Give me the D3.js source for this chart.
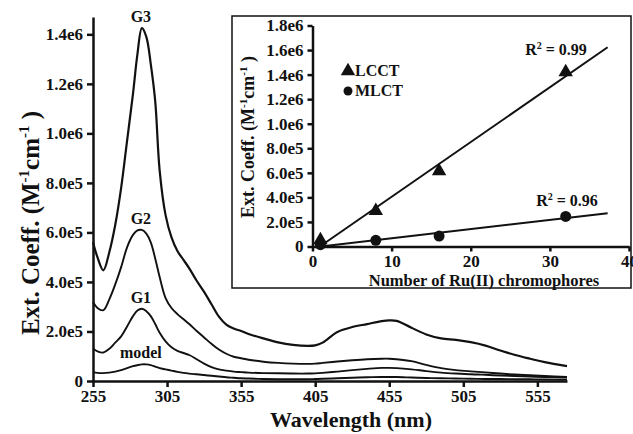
<!DOCTYPE html>
<html lang="en">
<head>
	<meta charset="UTF-8">
	<title>Ext. Coeff.</title>
	<style>
		*{margin:0;padding:0;}
		body{background:#fff;}
		#container{width: 633px; height: 434px;}
		svg text{font-family:"Liberation Serif","Times New Roman",serif !important;font-weight:bold;fill:#111;}
	</style>
</head>
<body>
	<div id="container"></div>
	<script src="https://cdn.jsdelivr.net/npm/d3@7"></script>
	<script>
		// main spectrum (values in 1e5 M-1cm-1)
		var wavelength = [255,258,262,266,270,274,278,282,285,288,291,294,297,300,304,308,312,316,320,325,330,335,340,345,350,355,360,370,380,390,400,405,410,420,430,440,450,455,460,470,480,490,500,510,520,530,540,550,560,575]
		var g3 = [5.6,5.0,4.47,5.2,6.3,7.8,9.7,11.6,13.2,14.25,13.9,12.8,11.3,8.5,6.7,5.8,5.25,4.9,4.55,4.05,3.6,3.1,2.6,2.28,2.12,2.02,1.9,1.72,1.56,1.46,1.42,1.44,1.55,1.98,2.18,2.3,2.42,2.45,2.43,2.15,1.88,1.72,1.66,1.57,1.43,1.23,1.05,0.9,0.76,0.6]
		var g2 = [3.19,2.95,2.86,3.3,3.9,4.6,5.4,5.9,6.08,6.1,5.95,5.6,4.95,4.2,3.35,2.95,2.7,2.5,2.3,2.02,1.76,1.5,1.27,1.1,0.98,0.92,0.86,0.78,0.73,0.7,0.69,0.7,0.73,0.79,0.84,0.88,0.9,0.9,0.88,0.8,0.65,0.52,0.44,0.39,0.35,0.3,0.26,0.23,0.2,0.16]
		var g1 = [1.31,1.2,1.15,1.3,1.55,1.8,2.2,2.62,2.85,2.92,2.82,2.62,2.3,1.95,1.6,1.36,1.22,1.13,1.05,0.88,0.7,0.56,0.47,0.42,0.38,0.36,0.34,0.32,0.31,0.3,0.3,0.31,0.33,0.38,0.44,0.49,0.53,0.53,0.52,0.47,0.4,0.34,0.3,0.27,0.25,0.22,0.2,0.18,0.16,0.14]
		var model = [0.36,0.33,0.32,0.34,0.38,0.44,0.52,0.6,0.64,0.67,0.67,0.64,0.58,0.52,0.47,0.42,0.37,0.33,0.3,0.27,0.24,0.21,0.18,0.15,0.13,0.11,0.1,0.08,0.07,0.07,0.07,0.08,0.09,0.11,0.13,0.15,0.16,0.16,0.16,0.14,0.12,0.11,0.1,0.09,0.08,0.08,0.07,0.07,0.06,0.05]
		var seriesNames = ['G3','G2','G1','model']
		var xTicks = [255,305,355,405,455,505,555]
		var yTicks = [0,2e5,4e5,6e5,8e5,1e6,1.2e6,1.4e6]
		var yTickLabels = ['0','2.0e5','4.0e5','6.0e5','8.0e5','1.0e6','1.2e6','1.4e6']

		// inset
		var chromophores = [1,8,16,32]
		var lcct = [5.3e4,2.9e5,6.15e5,1.42e6]
		var mlct = [1.5e4,5e4,8.5e4,2.45e5]
		var insetXTicks = [0,10,20,30,40]
		var insetYTicks = [0,2e5,4e5,6e5,8e5,1e6,1.2e6,1.4e6,1.6e6,1.8e6]
		var insetYTickLabels = ['0','2.0e5','4.0e5','6.0e5','8.0e5','1.0e6','1.2e6','1.4e6','1.6e6','1.8e6']
		var r2 = ['0.99','0.96']

		var svg = d3.select('#container').append('svg').attr('width', 633).attr('height', 434)

		var scale_x = d3.scaleLinear().domain([255, 575]).range([93, 567])
		var scale_y = d3.scaleLinear().domain([0, 1.47e6]).range([381, 17])

		function styleAxis(g, w, fs){
			g.attr('font-family', null).attr('font-size', null)
			g.select('.domain').attr('stroke', '#111').attr('stroke-width', w)
			g.selectAll('.tick line').attr('stroke', '#111').attr('stroke-width', w)
			g.selectAll('.tick text').attr('fill', '#111').style('font-size', fs + 'px')
		}

		var line_g = d3.line()
			.x(function(d){return scale_x(d[0])})
			.y(function(d){return scale_y(d[1] * 1e5)})
			.curve(d3.curveCatmullRom)
		var allSeries = [g3, g2, g1, model]
		allSeries.forEach(function(vals, k){
			svg.append('path')
				.attr('d', line_g(wavelength.map(function(w, i){return [w, vals[i]]})))
				.attr('fill', 'none')
				.attr('stroke', '#111')
				.attr('stroke-width', k == 0 ? 2.2 : 1.9)
		})

		// series labels sit above each peak
		var peakIdx = allSeries.map(function(v){return v.indexOf(d3.max(v))})
		svg.selectAll('.slab').data(seriesNames).enter().append('text')
			.attr('x', function(d, k){return scale_x(wavelength[peakIdx[k]]) - 1})
			.attr('y', function(d, k){return scale_y(allSeries[k][peakIdx[k]] * 1e5) - 6})
			.attr('text-anchor', 'middle')
			.attr('font-size', 16)
			.text(function(d){return d})

		var x_axis = d3.axisBottom(scale_x).tickValues(xTicks).tickSize(6).tickSizeOuter(0).tickPadding(3)
		var y_axis = d3.axisLeft(scale_y).tickValues(yTicks).tickSize(6).tickSizeOuter(0).tickPadding(4)
			.tickFormat(function(d, i){return yTickLabels[i]})
		svg.append('g').attr('transform', 'translate(0,' + scale_y(0) + ')').call(x_axis)
			.call(styleAxis, 2.5, 17)
		svg.append('g').attr('transform', 'translate(' + scale_x(255) + ',0)').call(y_axis)
			.call(styleAxis, 2.5, 17)

		svg.append('text').attr('x', 351).attr('y', 427).attr('text-anchor', 'middle')
			.attr('font-size', 22).text('Wavelength (nm)')
		var yt = svg.append('text').attr('transform', 'translate(39,223) rotate(-90)')
			.attr('text-anchor', 'middle').attr('font-size', 25)
		yt.append('tspan').text('Ext. Coeff. (M')
		yt.append('tspan').attr('dy', -10).attr('font-size', 15).text('-1')
		yt.append('tspan').attr('dy', 10).text('cm')
		yt.append('tspan').attr('dy', -10).attr('font-size', 15).text('-1')
		yt.append('tspan').attr('dy', 10).text(' )')

		// inset panel
		var inset = svg.append('g')
		inset.append('rect').attr('x', 232).attr('y', 16).attr('width', 399).attr('height', 272)
			.attr('fill', '#fff').attr('stroke', '#111').attr('stroke-width', 1.5)

		var ix = d3.scaleLinear().domain([0, 40]).range([312.5, 629])
		var iy = d3.scaleLinear().domain([0, 1.8e6]).range([246.5, 25.5])

		inset.append('g').attr('transform', 'translate(0,' + iy(0) + ')')
			.call(d3.axisBottom(ix).tickValues(insetXTicks).tickSize(5).tickSizeOuter(0).tickPadding(3))
			.call(styleAxis, 2.5, 17)
		inset.append('g').attr('transform', 'translate(' + ix(0) + ',0)')
			.call(d3.axisLeft(iy).tickValues(insetYTicks).tickSize(5).tickSizeOuter(0).tickPadding(4)
				.tickFormat(function(d, i){return insetYTickLabels[i]}))
			.call(styleAxis, 2.5, 17)

		inset.append('text').attr('x', 484).attr('y', 286).attr('text-anchor', 'middle')
			.attr('font-size', 16.5).text('Number of Ru(II) chromophores')
		var it = inset.append('text').attr('transform', 'translate(254,137) rotate(-90)')
			.attr('text-anchor', 'middle').attr('font-size', 18)
		it.append('tspan').text('Ext. Coeff. (M')
		it.append('tspan').attr('dy', -7).attr('font-size', 11).text('-1')
		it.append('tspan').attr('dy', 7).text('cm')
		it.append('tspan').attr('dy', -7).attr('font-size', 11).text('-1')
		it.append('tspan').attr('dy', 7).text(' )')

		// least squares fits
		function fit(xs, ys){
			var mx = d3.mean(xs), my = d3.mean(ys)
			var sxy = d3.sum(xs, function(x, i){return (x - mx) * (ys[i] - my)})
			var sxx = d3.sum(xs, function(x){return (x - mx) * (x - mx)})
			var b = sxy / sxx
			return {b: b, a: my - b * mx}
		}
		;[lcct, mlct].forEach(function(ys){
			var f = fit(chromophores, ys)
			var x0 = Math.max(0.9, -f.a / f.b), x1 = 37.3
			inset.append('line')
				.attr('x1', ix(x0)).attr('y1', iy(f.a + f.b * x0))
				.attr('x2', ix(x1)).attr('y2', iy(f.a + f.b * x1))
				.attr('stroke', '#111').attr('stroke-width', 2)
		})

		var tri = d3.symbol().type(d3.symbolTriangle).size(90)
		inset.selectAll('.tri').data(lcct).enter().append('path')
			.attr('d', tri)
			.attr('transform', function(d, i){return 'translate(' + ix(chromophores[i]) + ',' + iy(d) + ')'})
			.attr('fill', '#111')
		inset.selectAll('.dot').data(mlct).enter().append('circle')
			.attr('cx', function(d, i){return ix(chromophores[i])})
			.attr('cy', function(d){return iy(d)})
			.attr('r', 5.5).attr('fill', '#111')

		// legend
		inset.append('path').attr('d', tri).attr('transform', 'translate(348,71)').attr('fill', '#111')
		inset.append('text').attr('x', 355).attr('y', 76).attr('font-size', 16).text('LCCT')
		inset.append('circle').attr('cx', 348).attr('cy', 91).attr('r', 4.5).attr('fill', '#111')
		inset.append('text').attr('x', 355).attr('y', 96).attr('font-size', 16).text('MLCT')

		// R2 labels
		var r2pos = [[556, 55], [567, 206]]
		r2.forEach(function(v, i){
			var t = inset.append('text').attr('x', r2pos[i][0]).attr('y', r2pos[i][1])
				.attr('text-anchor', 'middle').attr('font-size', 16)
			t.append('tspan').text('R')
			t.append('tspan').attr('dy', -6).attr('font-size', 10).text('2')
			t.append('tspan').attr('dy', 6).text(' = ' + v)
		})
	</script>
</body>
</html>
